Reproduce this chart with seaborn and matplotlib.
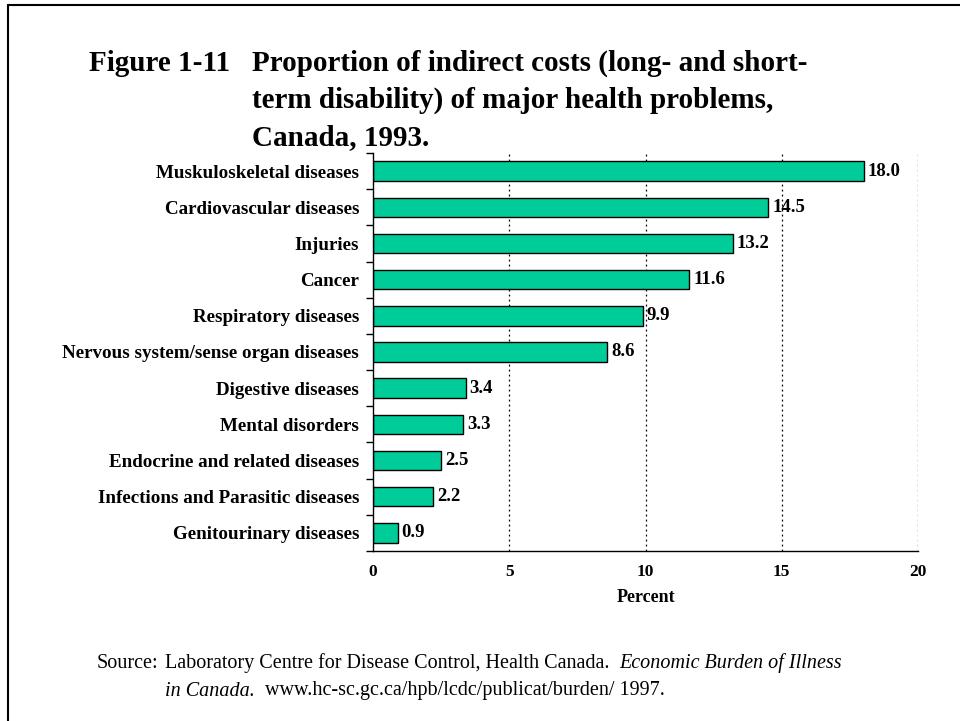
import matplotlib
matplotlib.use("Agg")
import matplotlib.pyplot as plt
import seaborn as sns
import pandas as pd
from matplotlib.lines import Line2D

categories = ["Muskuloskeletal diseases", "Cardiovascular diseases", "Injuries", "Cancer",
              "Respiratory diseases", "Nervous system/sense organ diseases", "Digestive diseases",
              "Mental disorders", "Endocrine and related diseases",
              "Infections and Parasitic diseases", "Genitourinary diseases"]
values = [18.0, 14.5, 13.2, 11.6, 9.9, 8.6, 3.4, 3.3, 2.5, 2.2, 0.9]
xticks = [0, 5, 10, 15, 20]

sns.set_theme(style="white")
plt.rcParams['font.family'] = ['Liberation Serif', 'DejaVu Serif']
for k in ["text.color", "axes.labelcolor", "xtick.color", "ytick.color"]:
    plt.rcParams[k] = "black"

df = pd.DataFrame({"cat": categories, "val": values})

fig = plt.figure(figsize=(9.6, 7.21), dpi=100)
ax = fig.add_axes([373/960, 1-551/721, (918-373)/960, (551-153)/721])
sns.barplot(data=df, x="val", y="cat", orient="h", color="#00CC99", saturation=1,
            edgecolor="black", linewidth=1.0, width=0.54, ax=ax)

n = len(categories)
ax.set_xlim(0, 20)
ax.set_ylim(n - 0.5, -0.5)
ax.set_xticks(xticks)
ax.set_xticklabels([str(t) for t in xticks], fontsize=12.5, fontweight="bold")
ax.tick_params(axis="x", length=0, pad=9)
ax.set_yticks(range(n))
ax.set_yticklabels(categories, fontsize=13.7, fontweight="bold")
ax.tick_params(axis="y", which="major", length=0, pad=10)
ax.set_yticks([i - 0.5 for i in range(n + 1)], minor=True)
ax.tick_params(axis="y", which="minor", left=True, length=5, width=1, direction="out", color="black")
ax.set_xticks([0], minor=True)
ax.tick_params(axis="x", which="minor", bottom=True, length=4, width=1, direction="out", color="black")
ax.set_xlabel("Percent", fontsize=13, fontweight="bold", labelpad=7)
ax.set_ylabel("")

for x in xticks[1:]:
    ax.axvline(x, color="black", linestyle=(0, (1.5, 2.5)), linewidth=0.9, zorder=0)

for s in ["top", "right"]:
    ax.spines[s].set_visible(False)
for s in ["left", "bottom"]:
    ax.spines[s].set_color("black")
    ax.spines[s].set_linewidth(1.0)

for i, v in enumerate(values):
    ax.text(v + 0.15, i, f"{v:.1f}", va="center", ha="left", fontsize=13.5, fontweight="bold")

# title
fig.text(89/960, 1-71/721, "Figure 1-11", fontsize=21, fontweight="bold", va="baseline", ha="left")
title_lines = ["Proportion of indirect costs (long- and short-",
               "term disability) of major health problems,",
               "Canada, 1993."]
for k, line in enumerate(title_lines):
    fig.text(252/960, 1-(71 + 37*k)/721, line, fontsize=21, fontweight="bold", va="baseline", ha="left")

# source
fig.canvas.draw()
r = fig.canvas.get_renderer()
fs = 14.5
fig.text(97/960, 1-663/721, "Source:", fontsize=fs, va="center", ha="left")
t1 = fig.text(165/960, 1-663/721, "Laboratory Centre for Disease Control, Health Canada.  ",
              fontsize=fs, va="center", ha="left")
bb = t1.get_window_extent(r)
fig.text(bb.x1/960, 1-663/721, "Economic Burden of Illness", fontsize=fs, style="italic",
         va="center", ha="left")
t2 = fig.text(165/960, 1-691/721, "in Canada.", fontsize=fs, style="italic", va="center", ha="left")
bb2 = t2.get_window_extent(r)
fig.text(bb2.x1/960, 1-691/721, "  www.hc-sc.gc.ca/hpb/lcdc/publicat/burden/ 1997.", fontsize=fs,
         va="center", ha="left")

# frame (left and top)
fig.add_artist(Line2D([8/960, 8/960], [0, 1-5/721], transform=fig.transFigure, color="black", linewidth=1.5))
fig.add_artist(Line2D([8/960, 1], [1-5/721, 1-5/721], transform=fig.transFigure, color="black", linewidth=1.5))

fig.savefig("out.png", dpi=100)
